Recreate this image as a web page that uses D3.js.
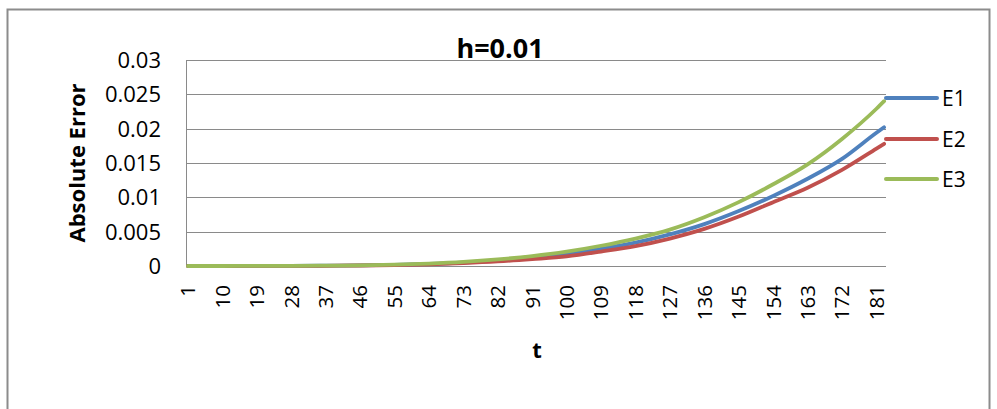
<!DOCTYPE html>
<html>
<head>
<meta charset="utf-8">
<script src="https://cdn.jsdelivr.net/npm/d3@7"></script>
<style>
  html, body { margin: 0; padding: 0; background: #fff; }
  svg { display: block; }
  text { font-family: "Open Sans", "Liberation Sans", sans-serif; fill: #000; }
</style>
</head>
<body>
<svg id="chart" width="997" height="409"></svg>
<script>
// ---- data ----
const title = "h=0.01";
const yTitle = "Absolute Error";
const xTitle = "t";
const categoryCount = 183;              // t = 1 .. 183
const tickLabels = [1, 10, 19, 28, 37, 46, 55, 64, 73, 82, 91, 100, 109, 118, 127, 136, 145, 154, 163, 172, 181];
const yTicks = [0, 0.005, 0.01, 0.015, 0.02, 0.025, 0.03];
const yTickLabels = ["0", "0.005", "0.01", "0.015", "0.02", "0.025", "0.03"];
// values read at these t
const sampleT = [1, 10, 19, 28, 37, 46, 55, 64, 73, 82, 91, 100, 109, 118, 127, 136, 145, 154, 163, 172, 181, 183];
const E1 = [0, 0, 0.00001, 0.00002, 0.00004, 0.00008, 0.00016, 0.0003, 0.0005, 0.0008, 0.00122, 0.00175, 0.0025, 0.0034, 0.0046, 0.0061, 0.0080, 0.0102, 0.0127, 0.0156, 0.0194, 0.0202];
const E2 = [0, 0, 0.00001, 0.00001, 0.00003, 0.00007, 0.00013, 0.00025, 0.00042, 0.00066, 0.0010, 0.0014, 0.0021, 0.0029, 0.0040, 0.0054, 0.0072, 0.0093, 0.0114, 0.0140, 0.0171, 0.0178];
const E3 = [0, 0, 0.00001, 0.00002, 0.00005, 0.0001, 0.0002, 0.00036, 0.0006, 0.00096, 0.00145, 0.0021, 0.00295, 0.0040, 0.0053, 0.0071, 0.0093, 0.0119, 0.0148, 0.0185, 0.0229, 0.0240];
const seriesNames = ["E1", "E2", "E3"];
const seriesColors = ["#4F81BD", "#C0504D", "#9BBB59"];

// ---- layout ----
const svg = d3.select("#chart");
const plot = { left: 186, right: 886, top: 60, bottom: 266 };

// outer border
svg.append("rect")
  .attr("x", 7.5).attr("y", 9.5).attr("width", 982).attr("height", 410)
  .attr("fill", "#fff").attr("stroke", "#8c8c8c").attr("stroke-width", 2);

const categories = d3.range(1, categoryCount + 1);
const x = d3.scaleBand().domain(categories).range([plot.left, plot.right]).padding(0);
const xc = t => x(t) + x.bandwidth() / 2;
const y = d3.scaleLinear().domain([0, 0.03]).range([plot.bottom, plot.top]);

// gridlines
svg.append("g").selectAll("line").data(yTicks).join("line")
  .attr("x1", plot.left).attr("x2", plot.right)
  .attr("y1", d => Math.round(y(d)) + 0.5).attr("y2", d => Math.round(y(d)) + 0.5)
  .attr("stroke", "#8a8a8a").attr("stroke-width", 1);

// y axis line
svg.append("line")
  .attr("x1", plot.left + 0.5).attr("x2", plot.left + 0.5)
  .attr("y1", plot.top).attr("y2", plot.bottom + 1)
  .attr("stroke", "#8a8a8a").attr("stroke-width", 1);

// y tick labels
svg.append("g").selectAll("text").data(yTicks).join("text")
  .attr("x", 161).attr("y", d => y(d))
  .attr("dy", "0.36em")
  .attr("text-anchor", "end")
  .style("font-size", "22px")
  .text((d, i) => yTickLabels[i]);

// x tick labels (rotated)
svg.append("g").selectAll("text").data(tickLabels).join("text")
  .attr("transform", d => `translate(${xc(d)},${285}) rotate(-90)`)
  .attr("dy", "0.36em")
  .attr("text-anchor", "end")
  .style("font-size", "20.5px")
  .text(d => d);

// series lines
const line = d3.line()
  .x(d => xc(d.t))
  .y(d => y(d.v))
  .curve(d3.curveMonotoneX);
const allSeries = [E1, E2, E3].map((vals, i) => ({
  name: seriesNames[i], color: seriesColors[i],
  pts: sampleT.map((t, j) => ({ t, v: vals[j] }))
}));
svg.append("g").selectAll("path").data(allSeries).join("path")
  .attr("d", d => line(d.pts))
  .attr("fill", "none")
  .attr("stroke", d => d.color)
  .attr("stroke-width", 3.8)
  .attr("stroke-linejoin", "round")
  .attr("stroke-linecap", "round");

// legend
const legend = svg.append("g");
const legendY = [98, 139, 179];
allSeries.forEach((s, i) => {
  legend.append("line")
    .attr("x1", 886).attr("x2", 937)
    .attr("y1", legendY[i]).attr("y2", legendY[i])
    .attr("stroke", s.color).attr("stroke-width", 4).attr("stroke-linecap", "round");
  legend.append("text")
    .attr("x", 942).attr("y", legendY[i]).attr("dy", "0.36em")
    .style("font-size", "21px")
    .text(s.name);
});

// titles
svg.append("text")
  .attr("x", 500).attr("y", 58)
  .attr("text-anchor", "middle")
  .style("font-size", "27px").style("font-weight", "bold")
  .text(title);

svg.append("text")
  .attr("transform", `translate(77,163) rotate(-90)`)
  .attr("dy", "0.36em")
  .attr("text-anchor", "middle")
  .style("font-size", "22px").style("font-weight", "bold")
  .text(yTitle);

svg.append("text")
  .attr("x", 537).attr("y", 358)
  .attr("text-anchor", "middle")
  .style("font-size", "22px").style("font-weight", "bold")
  .text(xTitle);
</script>
</body>
</html>
